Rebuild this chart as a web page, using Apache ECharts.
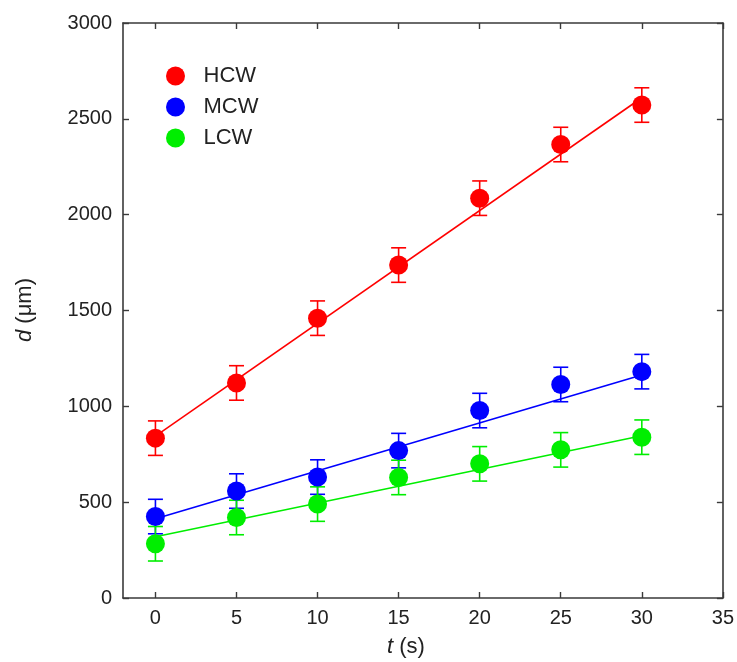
<!DOCTYPE html>
<html>
<head>
<meta charset="utf-8">
<script src="https://cdn.jsdelivr.net/npm/echarts@6/dist/echarts.min.js"></script>
<style>
  html, body { margin: 0; padding: 0; background: #fff; }
  #chart { width: 737px; height: 662px; }
</style>
</head>
<body>
<div id="chart"></div>
<script>
// time points (s)
const times = [0, 5, 10, 15, 20, 25, 30];
// measured d (um) for each group
const hcw = [834, 1122, 1460, 1737, 2086, 2366, 2572];
const mcw = [425, 558, 631, 769, 978, 1114, 1181];
const lcw = [283, 420, 490, 629, 700, 773, 839];
// error bar half-width (um)
const hcwErr = [90, 90, 90, 90, 90, 90, 90];
const mcwErr = [90, 90, 90, 90, 90, 90, 90];
const lcwErr = [90, 90, 90, 90, 90, 90, 90];
// fitted lines, read at t = 0 and t = 30
const fitT = [0, 30];
const hcwFit = [845, 2610];
const mcwFit = [413, 1164];
const lcwFit = [320, 847];
// ticks
const xTicks = [0, 5, 10, 15, 20, 25, 30, 35];

const font = 'Liberation Sans, Arial, sans-serif';
const axisColor = '#3a3a3a';

const myChart = echarts.init(document.getElementById('chart'));

function pts(ys) {
  return times.map((t, i) => [t, ys[i]]);
}
function errPts(ys, es) {
  return times.map((t, i) => [t, ys[i], es[i]]);
}
function fitPts(ys) {
  return fitT.map((t, i) => [t, ys[i]]);
}

function errorBar(color) {
  return function (params, api) {
    const x = api.value(0);
    const y = api.value(1);
    const e = api.value(2);
    const hi = api.coord([x, y + e]);
    const lo = api.coord([x, y - e]);
    const w = 7.5;
    const style = { stroke: color, lineWidth: 1.6 };
    return {
      type: 'group',
      children: [
        { type: 'line', shape: { x1: hi[0], y1: hi[1], x2: lo[0], y2: lo[1] }, style: style },
        { type: 'line', shape: { x1: hi[0] - w, y1: hi[1], x2: hi[0] + w, y2: hi[1] }, style: style },
        { type: 'line', shape: { x1: lo[0] - w, y1: lo[1], x2: lo[0] + w, y2: lo[1] }, style: style },
      ],
    };
  };
}

const groups = [
  { name: 'HCW', color: '#ff0000', y: hcw, e: hcwErr, fit: hcwFit },
  { name: 'MCW', color: '#0000ff', y: mcw, e: mcwErr, fit: mcwFit },
  { name: 'LCW', color: '#00ee00', y: lcw, e: lcwErr, fit: lcwFit },
];

const series = [];
groups.forEach((g) => {
  series.push({
    name: g.name + ' err',
    type: 'custom',
    renderItem: errorBar(g.color),
    data: errPts(g.y, g.e),
    z: 1,
    silent: true,
  });
  series.push({
    name: g.name + ' fit',
    type: 'line',
    data: fitPts(g.fit),
    showSymbol: false,
    lineStyle: { color: g.color, width: 1.6 },
    z: 2,
    silent: true,
  });
});
groups.forEach((g) => {
  series.push({
    name: g.name,
    type: 'scatter',
    data: pts(g.y),
    symbol: 'circle',
    symbolSize: 19,
    itemStyle: { color: g.color, opacity: 1 },
    z: 3,
  });
});

const option = {
  animation: false,
  backgroundColor: '#fff',
  grid: { left: 123, right: 12, top: 23, bottom: 64 },
  legend: {
    data: ['HCW', 'MCW', 'LCW'],
    orient: 'vertical',
    left: 161,
    top: 60,
    icon: 'circle',
    itemWidth: 46,
    itemHeight: 19,
    itemGap: 9,
    textStyle: { fontFamily: font, fontSize: 22, color: '#222', lineHeight: 19 },
  },
  xAxis: [
    {
      type: 'value',
      min: -2,
      max: 35,
      splitLine: { show: false },
      axisLine: { onZero: false, lineStyle: { color: axisColor, width: 1.6 } },
      axisTick: { inside: true, length: 6, customValues: xTicks, lineStyle: { color: axisColor, width: 1.4 } },
      axisLabel: { customValues: xTicks, fontFamily: font, fontSize: 20, color: '#222', margin: 10 },
    },
    {
      type: 'value',
      position: 'top',
      min: -2,
      max: 35,
      splitLine: { show: false },
      axisLine: { onZero: false, lineStyle: { color: axisColor, width: 1.6 } },
      axisTick: { inside: true, length: 6, customValues: xTicks, lineStyle: { color: axisColor, width: 1.4 } },
      axisLabel: { show: false },
    },
  ],
  yAxis: [
    {
      type: 'value',
      min: 0,
      max: 3000,
      interval: 500,
      splitLine: { show: false },
      axisLine: { show: true, onZero: false, lineStyle: { color: axisColor, width: 1.6 } },
      axisTick: { show: true, inside: true, length: 6, lineStyle: { color: axisColor, width: 1.4 } },
      axisLabel: { fontFamily: font, fontSize: 20, color: '#222', margin: 11, formatter: (v) => String(v) },
    },
    {
      type: 'value',
      position: 'right',
      min: 0,
      max: 3000,
      interval: 500,
      splitLine: { show: false },
      axisLine: { show: true, onZero: false, lineStyle: { color: axisColor, width: 1.6 } },
      axisTick: { show: true, inside: true, length: 6, lineStyle: { color: axisColor, width: 1.4 } },
      axisLabel: { show: false },
    },
  ],
  graphic: [
    {
      type: 'text',
      x: 406,
      y: 647,
      style: {
        text: '{i|t} (s)',
        rich: { i: { fontStyle: 'italic', fontFamily: font, fontSize: 22, fill: '#222' } },
        fontFamily: font,
        fontSize: 22,
        fill: '#222',
        align: 'center',
        verticalAlign: 'middle',
      },
    },
    {
      type: 'text',
      x: 25,
      y: 310,
      rotation: Math.PI / 2,
      style: {
        text: '{i|d} (μm)',
        rich: { i: { fontStyle: 'italic', fontFamily: font, fontSize: 22, fill: '#222' } },
        fontFamily: font,
        fontSize: 22,
        fill: '#222',
        align: 'center',
        verticalAlign: 'middle',
      },
    },
  ],
  series: series,
};

myChart.setOption(option);
</script>
</body>
</html>
